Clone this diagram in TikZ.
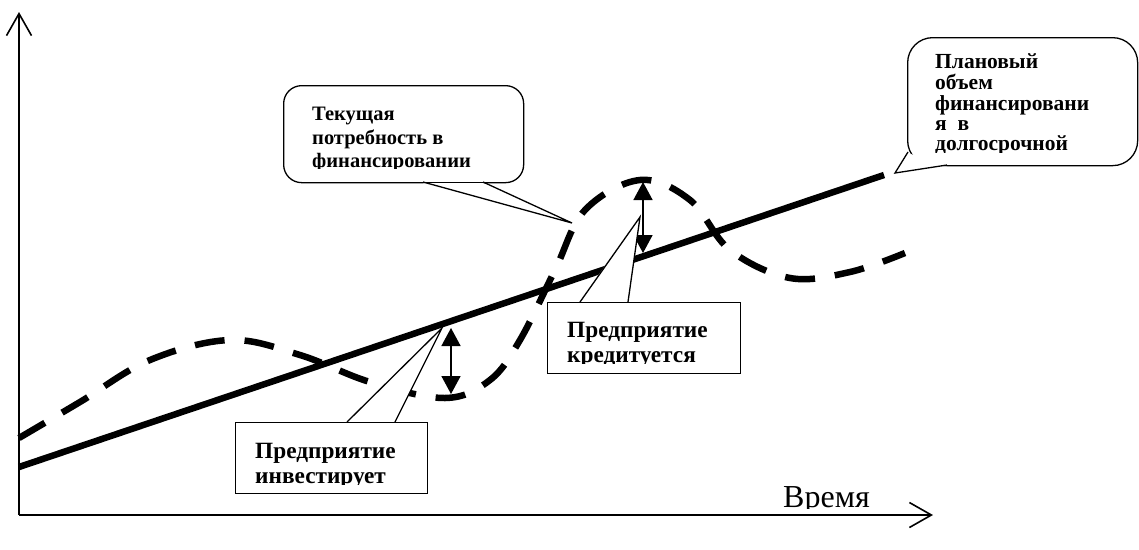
\documentclass[tikz,border=0pt]{standalone}
\usepackage{fontspec}
\setmainfont{Liberation Serif}
\usetikzlibrary{arrows.meta}
\begin{document}
\begin{tikzpicture}[x=1pt,y=-1pt,
  axis/.style={line width=1.8pt},
  axtip/.style={-{Straight Barb[length=22pt,width=25pt,line width=1.6pt]}},
  solidline/.style={line width=6.5pt},
  dashline/.style={line width=6.5pt, dash pattern=on 30pt off 20pt},
  dbl/.style={line width=1.6pt, {Triangle[width=19pt,length=18pt]}-{Triangle[width=19pt,length=18pt]}},
  callout/.style={draw, line width=1.3pt, fill=white},
  pointer/.style={line width=1.3pt},
  lbl/.style={anchor=base west, inner sep=0pt, font=\fontsize{20.5}{24}\selectfont\bfseries},
  lblb/.style={lbl, font=\fontsize{21.5}{24}\selectfont\bfseries},
  lblc/.style={lbl, font=\fontsize{23.3}{26}\selectfont\bfseries},
  timelbl/.style={anchor=base west, inner sep=0pt, font=\fontsize{32}{36}\selectfont},
]
\useasboundingbox (0,0) rectangle (1139,549);

% axes
\coordinate (O) at (19,515);
\coordinate (ytop) at (19,12);
\coordinate (xend) at (933,515);
\draw[axis,axtip] (O) -- (ytop);
\draw[axis,axtip] (O) -- (xend);

% planned line
\coordinate (s0) at (19,467);
\coordinate (s1) at (884,175);
\draw[solidline] (s0) -- (s1);

% current need (dashed)
\draw[dashline] plot[smooth, tension=0.6] coordinates {
  (19,438) (80,402) (150,360) (230,340) (300,355) (370,382) (445,398)
  (490,380) (520,340) (555,270) (585,210) (640,180) (690,200) (730,250)
  (790,278) (850,272) (905,253)};

% double arrows
\coordinate (a1t) at (451,328);
\coordinate (a1b) at (451,394);
\draw[dbl] (a1t) -- (a1b);
\coordinate (a2t) at (643,182);
\coordinate (a2b) at (643,253);
\draw[dbl] (a2t) -- (a2b);

% callout 1
\node[callout, rounded corners=18pt, minimum width=240pt, minimum height=97pt, anchor=north west] (c1) at (283,85) {};
\coordinate (c1p1) at (423,182);
\coordinate (c1p2) at (483,182);
\coordinate (c1tip) at (572,223);
\fill[white] ([yshift=-1.2pt]c1p1) -- (c1tip) -- ([yshift=-1.2pt]c1p2) -- cycle;
\draw[pointer] (c1p1) -- (c1tip) -- (c1p2);
\begin{scope}
\clip (290,90) rectangle (520,168);
\node[lbl] (c1a) at (312,120) {Текущая};
\node[lbl] (c1b) at (312,144) {потребность в};
\node[lbl] (c1c) at (312,167) {финансировании};
\end{scope}

% callout 2
\node[callout, rounded corners=25pt, minimum width=230pt, minimum height=128pt, anchor=north west] (c2) at (907,37) {};
\coordinate (c2p1) at (908,152);
\coordinate (c2p2) at (947,165);
\coordinate (c2tip) at (895,173);
\fill[white] ([xshift=1.5pt,yshift=-1.5pt]c2p1) -- (c2tip) -- ([yshift=-1.2pt]c2p2) -- cycle;
\draw[pointer] (c2p1) -- (c2tip) -- (c2p2);
\begin{scope}
\clip (912,42) rectangle (1132,152);
\node[lblb] (c2a) at (935,68) {Плановый};
\node[lblb] (c2b) at (935,89) {объем};
\node[lblb] (c2c) at (935,110) {финансировани};
\node[lblb] (c2d) at (935,130) {я\ \ в};
\node[lblb] (c2e) at (935,150) {долгосрочной};
\end{scope}

% callout 3
\node[callout, minimum width=193pt, minimum height=71pt, anchor=north west] (c3) at (547,302) {};
\coordinate (c3p1) at (580,302);
\coordinate (c3p2) at (628,302);
\coordinate (c3tip) at (640,217);
\fill[white] ([yshift=1.2pt]c3p1) -- (c3tip) -- ([yshift=1.2pt]c3p2) -- cycle;
\draw[pointer] (c3p1) -- (c3tip) -- (c3p2);
\begin{scope}
\clip (550,305) rectangle (737,363);
\node[lblc] (c3a) at (567,337) {Предприятие};
\node[lblc] (c3b) at (567,362) {кредитуется};
\end{scope}

% callout 4
\node[callout, minimum width=192pt, minimum height=71pt, anchor=north west] (c4) at (235,422) {};
\coordinate (c4p1) at (347,422);
\coordinate (c4p2) at (395,422);
\coordinate (c4tip) at (442,328);
\fill[white] ([yshift=1.2pt]c4p1) -- (c4tip) -- ([yshift=1.2pt]c4p2) -- cycle;
\draw[pointer] (c4p1) -- (c4tip) -- (c4p2);
\begin{scope}
\clip (238,425) rectangle (424,484);
\node[lblc] (c4a) at (255,458) {Предприятие};
\node[lblc] (c4b) at (255,483) {инвестирует};
\end{scope}

% time label
\begin{scope}
\clip (770,470) rectangle (900,508);
\node[timelbl] (tl) at (783,507) {Время};
\end{scope}
\end{tikzpicture}
\end{document}
